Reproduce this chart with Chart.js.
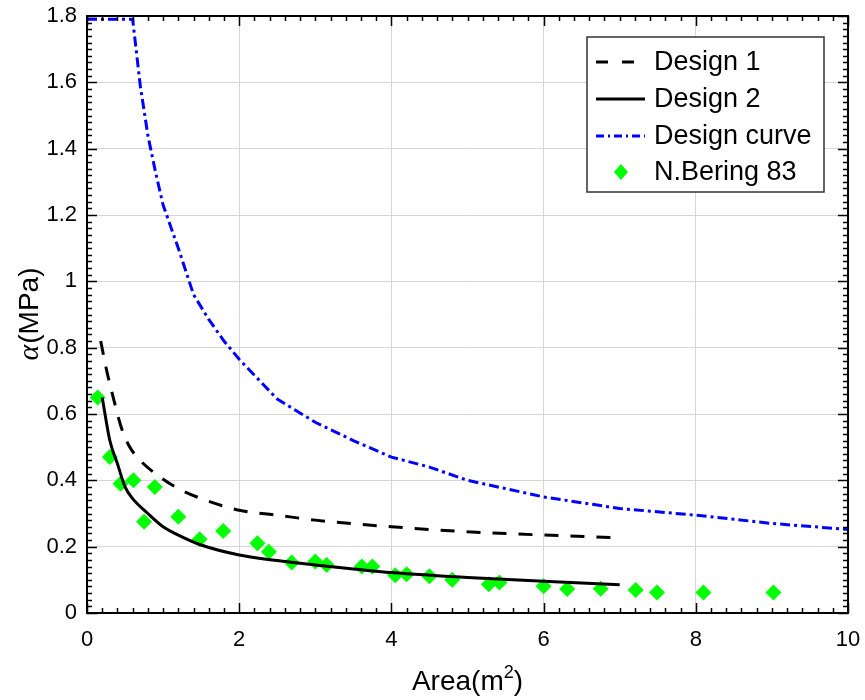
<!DOCTYPE html>
<html lang="en">
<head>
    <meta charset="UTF-8">
    <title>Area vs alpha</title>
    <script src="https://cdn.jsdelivr.net/npm/chart.js"></script>
    <style>
        body { margin: 0; background: #fff; }
        #wrap { width: 865px; height: 700px; }
    </style>
</head>
<body>
<div id="wrap">
    <canvas id="areaChart" width="865" height="700"></canvas>
</div>

<script>
    // Design 1 (dashed black)
    const design1X = [0.18, 0.25, 0.35, 0.45, 0.55, 0.7, 0.9, 1.2, 1.5, 2, 2.5, 3, 4, 5, 6, 7];
    const design1Y = [0.82, 0.74, 0.645, 0.56, 0.505, 0.46, 0.42, 0.375, 0.345, 0.31, 0.295, 0.28, 0.26, 0.245, 0.235, 0.227];

    // Design 2 (solid black)
    const design2X = [0.2, 0.3, 0.4, 0.5, 0.6, 0.8, 1.0, 1.2, 1.5, 2, 2.5, 3, 3.5, 4, 5, 6, 7];
    const design2Y = [0.65, 0.52, 0.45, 0.38, 0.345, 0.30, 0.26, 0.235, 0.205, 0.175, 0.158, 0.145, 0.133, 0.122, 0.107, 0.096, 0.085];

    // Design curve (blue dash-dot)
    const curveX = [0, 0.6, 0.7, 0.8, 0.9, 1.0, 1.2, 1.4, 1.6, 1.8, 2.0, 2.5, 3, 3.5, 4, 4.5, 5, 6, 7, 8, 9, 10];
    const curveY = [1.79, 1.79, 1.59, 1.44, 1.33, 1.23, 1.10, 0.96, 0.885, 0.82, 0.765, 0.645, 0.575, 0.52, 0.47, 0.44, 0.40, 0.35, 0.315, 0.295, 0.27, 0.252];

    // N.Bering 83 measurements
    const beringX = [0.14, 0.30, 0.44, 0.61, 0.89, 0.75, 1.20, 1.48, 1.79, 2.24, 2.39, 2.69, 3.0, 3.15, 3.61, 3.75, 4.05, 4.20, 4.50, 4.80, 5.28, 5.42, 6.0, 6.31, 6.75, 7.21, 7.49, 8.10, 9.02];
    const beringY = [0.65, 0.47, 0.39, 0.40, 0.38, 0.275, 0.29, 0.222, 0.247, 0.21, 0.185, 0.152, 0.155, 0.145, 0.14, 0.14, 0.114, 0.117, 0.111, 0.10, 0.087, 0.092, 0.081, 0.072, 0.073, 0.069, 0.062, 0.062, 0.062];

    const xTicks = [0, 2, 4, 6, 8, 10];
    const yTicks = [0, 0.2, 0.4, 0.6, 0.8, 1, 1.2, 1.4, 1.6, 1.8];

    const seriesNames = ['Design 1', 'Design 2', 'Design curve', 'N.Bering 83'];

    function toPoints(xs, ys) {
        return xs.map((x, i) => ({ x: x, y: ys[i] }));
    }

    const FONT = '"Liberation Sans", Arial, sans-serif';

    // frame, inner ticks, legend and axis titles
    const framePlugin = {
        id: 'frame',
        afterDraw(chart) {
            const ctx = chart.ctx;
            const a = chart.chartArea;
            const xs = chart.scales.x;
            const ys = chart.scales.y;
            ctx.save();

            // minor / major ticks on all four sides
            ctx.strokeStyle = '#000';
            ctx.lineWidth = 1.5;
            ctx.beginPath();
            for (let i = 0; i <= 50; i++) {
                const v = i * 0.2;
                const px = Math.round(xs.getPixelForValue(v)) + 0.5;
                const len = (i % 10 === 0) ? 10 : 5;
                ctx.moveTo(px, a.bottom); ctx.lineTo(px, a.bottom - len);
                ctx.moveTo(px, a.top); ctx.lineTo(px, a.top + len);
            }
            for (let i = 0; i <= 90; i++) {
                const v = i * 0.02;
                const py = Math.round(ys.getPixelForValue(v)) + 0.5;
                const len = (i % 10 === 0) ? 10 : 5;
                ctx.moveTo(a.left, py); ctx.lineTo(a.left + len, py);
                ctx.moveTo(a.right, py); ctx.lineTo(a.right - len, py);
            }
            ctx.stroke();

            ctx.lineWidth = 2;
            ctx.strokeRect(a.left, a.top, a.right - a.left, a.bottom - a.top);

            // legend
            const lx = 587, ly = 37, lw = 237, lh = 155;
            ctx.fillStyle = '#fff';
            ctx.fillRect(lx, ly, lw, lh);
            ctx.strokeStyle = '#333';
            ctx.lineWidth = 1.5;
            ctx.strokeRect(lx, ly, lw, lh);

            const rows = [62, 99, 136, 172];
            const ds = chart.data.datasets;
            for (let i = 0; i < 4; i++) {
                const y = rows[i];
                const d = ds[i];
                if (i < 3) {
                    ctx.strokeStyle = d.borderColor;
                    ctx.lineWidth = 3;
                    ctx.setLineDash(i === 0 ? [12, 14] : (i === 2 ? [8, 4, 2, 4] : []));
                    ctx.beginPath();
                    ctx.moveTo(596, y);
                    ctx.lineTo(645, y);
                    ctx.stroke();
                    ctx.setLineDash([]);
                } else {
                    ctx.fillStyle = d.backgroundColor;
                    ctx.beginPath();
                    ctx.moveTo(621, y - 8);
                    ctx.lineTo(628, y);
                    ctx.lineTo(621, y + 8);
                    ctx.lineTo(614, y);
                    ctx.closePath();
                    ctx.fill();
                }
                ctx.fillStyle = '#000';
                ctx.font = '27px ' + FONT;
                ctx.textBaseline = 'middle';
                ctx.textAlign = 'left';
                ctx.fillText(seriesNames[i], 654, y + 1);
            }

            // x axis title: Area(m^2)
            ctx.fillStyle = '#000';
            ctx.textBaseline = 'alphabetic';
            const big = '28px ' + FONT;
            const small = '18px ' + FONT;
            ctx.font = big;
            const w1 = ctx.measureText('Area(m').width;
            const w3 = ctx.measureText(')').width;
            ctx.font = small;
            const w2 = ctx.measureText('2').width;
            let tx = (a.left + a.right) / 2 - (w1 + w2 + w3) / 2;
            const ty = 690;
            ctx.font = big;
            ctx.fillText('Area(m', tx, ty);
            ctx.font = small;
            ctx.fillText('2', tx + w1, ty - 12);
            ctx.font = big;
            ctx.fillText(')', tx + w1 + w2, ty);

            // y axis title: alpha(MPa)
            ctx.translate(38, (a.top + a.bottom) / 2);
            ctx.rotate(-Math.PI / 2);
            const greek = 'italic 30px "Liberation Serif", "Times New Roman", serif';
            ctx.font = greek;
            const g1 = ctx.measureText('α').width;
            ctx.font = big;
            const g2 = ctx.measureText('(MPa)').width;
            const sx = -(g1 + g2) / 2;
            ctx.font = greek;
            ctx.fillText('α', sx, 0);
            ctx.font = big;
            ctx.fillText('(MPa)', sx + g1 + 1, 0);

            ctx.restore();
        }
    };

    const ctx1 = document.getElementById('areaChart').getContext('2d');
    const areaChart = new Chart(ctx1, {
        type: 'scatter',
        data: {
            datasets: [{
                label: seriesNames[0],
                data: toPoints(design1X, design1Y),
                showLine: true,
                borderColor: '#000000',
                borderWidth: 3,
                borderDash: [14, 12],
                pointRadius: 0,
                cubicInterpolationMode: 'monotone'
            }, {
                label: seriesNames[1],
                data: toPoints(design2X, design2Y),
                showLine: true,
                borderColor: '#000000',
                borderWidth: 3,
                pointRadius: 0,
                cubicInterpolationMode: 'monotone'
            }, {
                label: seriesNames[2],
                data: toPoints(curveX, curveY),
                showLine: true,
                borderColor: '#0000ff',
                borderWidth: 3,
                borderDash: [10, 4, 3, 4],
                pointRadius: 0,
                tension: 0
            }, {
                label: seriesNames[3],
                data: toPoints(beringX, beringY),
                showLine: false,
                backgroundColor: '#00ff00',
                borderColor: '#00ff00',
                borderWidth: 0,
                pointStyle: 'rectRot',
                pointRadius: 8
            }]
        },
        options: {
            responsive: false,
            animation: false,
            layout: { padding: { left: 0, top: 16, right: 17, bottom: 0 } },
            plugins: {
                legend: { display: false },
                tooltip: { enabled: false }
            },
            scales: {
                x: {
                    type: 'linear',
                    min: 0, max: 10,
                    afterBuildTicks: s => { s.ticks = xTicks.map(v => ({ value: v })); },
                    afterFit: s => { s.height = 87; s.paddingLeft = 0; s.paddingRight = 0; },
                    grid: { color: '#d6d6d6', lineWidth: 1, drawTicks: false },
                    border: { display: false },
                    ticks: {
                        color: '#000',
                        padding: 14,
                        maxRotation: 0,
                        font: { family: FONT, size: 22 },
                        callback: v => String(v)
                    }
                },
                y: {
                    type: 'linear',
                    min: 0, max: 1.8,
                    afterBuildTicks: s => { s.ticks = yTicks.map(v => ({ value: v })); },
                    afterFit: s => { s.width = 87; s.paddingTop = 0; s.paddingBottom = 0; },
                    grid: { color: '#d6d6d6', lineWidth: 1, drawTicks: false },
                    border: { display: false },
                    ticks: {
                        color: '#000',
                        padding: 10,
                        font: { family: FONT, size: 22 },
                        callback: v => String(+v.toFixed(1))
                    }
                }
            }
        },
        plugins: [framePlugin]
    });
</script>
</body>
</html>
